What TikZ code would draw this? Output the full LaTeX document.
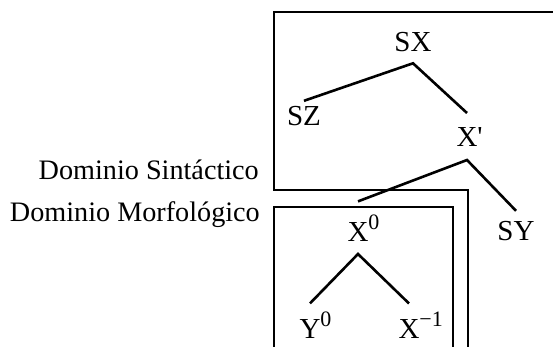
\documentclass[tikz,border=0pt]{standalone}
\usepackage{fontspec}
\newfontfamily\tm{Liberation Serif}
\newcommand\mysup[1]{\raisebox{12pt}{\fontsize{22}{22}\selectfont #1}}
\begin{document}
\begin{tikzpicture}[x=1pt,y=-1pt,
  lbl/.style={inner sep=0pt,font=\tm\fontsize{29}{32}\selectfont},
  side/.style={inner sep=0pt,font=\tm\fontsize{28.2}{32}\selectfont},
  tree/.style={line width=2.6pt},
  box/.style={line width=2pt}]
\useasboundingbox (0,0) rectangle (553,346);
% labels
\node[side,anchor=base east] (DS) at (259,179) {Dominio Sintáctico};
\node[side,anchor=base east] (DM) at (260,221) {Dominio Morfológico};
% boxes
\draw[box] (560,12) -- (274,12) -- (274,190) -- (468,190) -- (468,352);
\draw[box] (274,352) -- (274,207) -- (453,207) -- (453,352);
% tree nodes
\node[lbl,anchor=base,outer sep=12pt] (SX) at (413,51) {SX};
\node[lbl,anchor=base,outer sep=5pt] (SZ) at (304,125) {SZ};
\node[lbl,anchor=base,outer sep=14pt] (Xp) at (467,146) {X\rlap{'}};
\node[lbl,anchor=base,outer sep=10pt] (SY) at (516,240) {SY};
\node[lbl,anchor=base,outer sep=13pt] (X0) at (358,241) {X\rlap{\mysup{0}}};
\node[lbl,anchor=base,outer sep=8pt] (Y0) at (310,338) {Y\rlap{\mysup{0}}};
\node[lbl,anchor=base,outer sep=8pt] (Xm) at (409,338) {X\rlap{\mysup{−1}}};
% tree edges
\draw[tree] (SZ.north) -- (SX.south) -- (Xp.north);
\draw[tree] (X0.north) -- (Xp.south) -- (SY.north);
\draw[tree] (Y0.north) -- (X0.south) -- (Xm.north);
\end{tikzpicture}
\end{document}
